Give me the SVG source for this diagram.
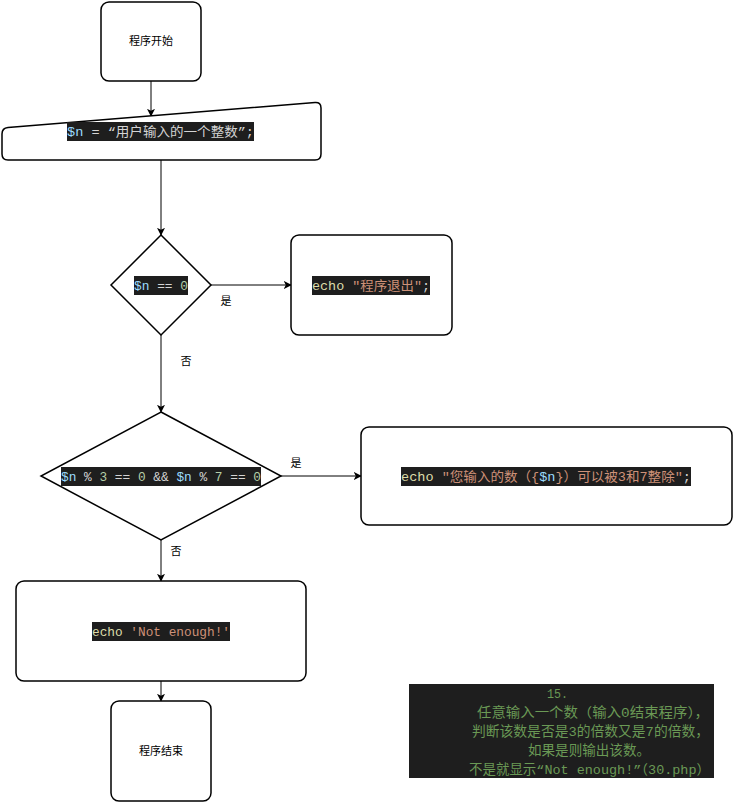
<svg xmlns="http://www.w3.org/2000/svg" width="733" height="803" viewBox="0 0 733 803">
<style>
.box{fill:#fff;stroke:#000;stroke-width:1.5}
.edge{fill:none;stroke:#000;stroke-width:1}
.lbl{font-family:"Noto Sans CJK SC","Liberation Sans",sans-serif;font-size:11px;fill:#000}
.code{font-family:"Liberation Mono","Noto Sans CJK SC",monospace;font-size:13px;fill:#d4d4d4}
.bg{fill:#1e1e1e}
.v{fill:#9cdcfe}.n{fill:#b5cea8}.f{fill:#dcdcaa}.s{fill:#ce9178}
.cm{font-family:"Liberation Mono","Noto Sans CJK SC",monospace;font-size:13.5px;fill:#6a9955}
</style>
<defs>
<marker id="arr" viewBox="0 0 10 10" refX="9" refY="5" markerWidth="8" markerHeight="8" markerUnits="userSpaceOnUse" orient="auto">
<path d="M0,0 L10,5 L0,10 L2.5,5 Z" fill="#000"/>
</marker>
</defs>
<rect width="733" height="803" fill="#fff"/>
<g id="connectors">
<line class="edge" x1="151" y1="81" x2="151" y2="116" marker-end="url(#arr)"/>
<line class="edge" x1="161" y1="160" x2="161" y2="235" marker-end="url(#arr)"/>
<line class="edge" x1="211" y1="285" x2="291" y2="285" marker-end="url(#arr)"/>
<text class="lbl" x="226" y="305" text-anchor="middle">是</text>
<line class="edge" x1="161" y1="335" x2="161" y2="412" marker-end="url(#arr)"/>
<text class="lbl" x="186" y="365" text-anchor="middle">否</text>
<line class="edge" x1="281" y1="476" x2="361" y2="476" marker-end="url(#arr)"/>
<text class="lbl" x="296" y="467" text-anchor="middle">是</text>
<line class="edge" x1="161" y1="540" x2="161" y2="581" marker-end="url(#arr)"/>
<text class="lbl" x="176" y="555" text-anchor="middle">否</text>
<line class="edge" x1="161" y1="681" x2="161" y2="701" marker-end="url(#arr)"/>
</g>
<g id="start">
<rect class="box" x="101" y="2" width="100" height="79" rx="8"/>
<text class="lbl" x="151" y="45" text-anchor="middle">程序开始</text>
</g>
<g id="input">
<path class="box" d="M8,127.5 L315,102.5 Q321,102 321,108 L321,154 Q321,160 315,160 L8,160 Q2,160 2,154 L2,134 Q2,128 8,127.5 Z"/>
<rect class="bg" x="67" y="122" width="187" height="19"/>
<text class="code" x="67" y="136" textLength="187" lengthAdjust="spacingAndGlyphs"><tspan class="v">$n</tspan> = “用户输入的一个整数”;</text>
</g>
<g id="cond1">
<path class="box" d="M161,235 L211,285 L161,335 L111,285 Z"/>
<rect class="bg" x="134" y="276" width="54" height="19"/>
<text class="code" x="134" y="290" textLength="54" lengthAdjust="spacingAndGlyphs"><tspan class="v">$n</tspan> == <tspan class="n">0</tspan></text>
</g>
<g id="exit">
<rect class="box" x="291" y="235" width="161" height="100" rx="8"/>
<rect class="bg" x="312" y="276" width="118" height="19"/>
<text class="code" x="312" y="290" textLength="118" lengthAdjust="spacingAndGlyphs"><tspan class="f">echo</tspan> <tspan class="s">"程序退出"</tspan>;</text>
</g>
<g id="cond2">
<path class="box" d="M161,412 L281,476 L161,540 L41,476 Z"/>
<rect class="bg" x="61" y="467" width="200" height="19"/>
<text class="code" x="61" y="481" textLength="200" lengthAdjust="spacingAndGlyphs"><tspan class="v">$n</tspan> % <tspan class="n">3</tspan> == <tspan class="n">0</tspan> &amp;&amp; <tspan class="v">$n</tspan> % <tspan class="n">7</tspan> == <tspan class="n">0</tspan></text>
</g>
<g id="yes">
<rect class="box" x="361" y="427" width="371" height="98" rx="8"/>
<rect class="bg" x="401" y="467" width="290" height="19"/>
<text class="code" x="401" y="481" textLength="290" lengthAdjust="spacingAndGlyphs"><tspan class="f">echo</tspan> <tspan class="s">"您输入的数（{</tspan><tspan class="v">$n</tspan><tspan class="s">}）可以被3和7整除"</tspan>;</text>
</g>
<g id="no">
<rect class="box" x="16" y="581" width="290" height="100" rx="8"/>
<rect class="bg" x="92" y="622" width="138" height="19"/>
<text class="code" x="92" y="636" textLength="138" lengthAdjust="spacingAndGlyphs"><tspan class="f">echo</tspan> <tspan class="s">'Not enough!'</tspan></text>
</g>
<g id="end">
<rect class="box" x="111" y="701" width="100" height="100" rx="8"/>
<text class="lbl" x="161" y="755" text-anchor="middle">程序结束</text>
</g>
<g id="comment">
<rect class="bg" x="409" y="684" width="305" height="94"/>
<text class="cm" x="547" y="698" textLength="21" lengthAdjust="spacingAndGlyphs">15.</text>
<text class="cm" x="477" y="717" textLength="232" lengthAdjust="spacingAndGlyphs">任意输入一个数（输入0结束程序），</text>
<text class="cm" x="472" y="736" textLength="237" lengthAdjust="spacingAndGlyphs">判断该数是否是3的倍数又是7的倍数，</text>
<text class="cm" x="528" y="755" textLength="122" lengthAdjust="spacingAndGlyphs">如果是则输出该数。</text>
<text class="cm" x="469" y="774" textLength="241" lengthAdjust="spacingAndGlyphs">不是就显示“Not enough!”（30.php）</text>
</g>
</svg>
